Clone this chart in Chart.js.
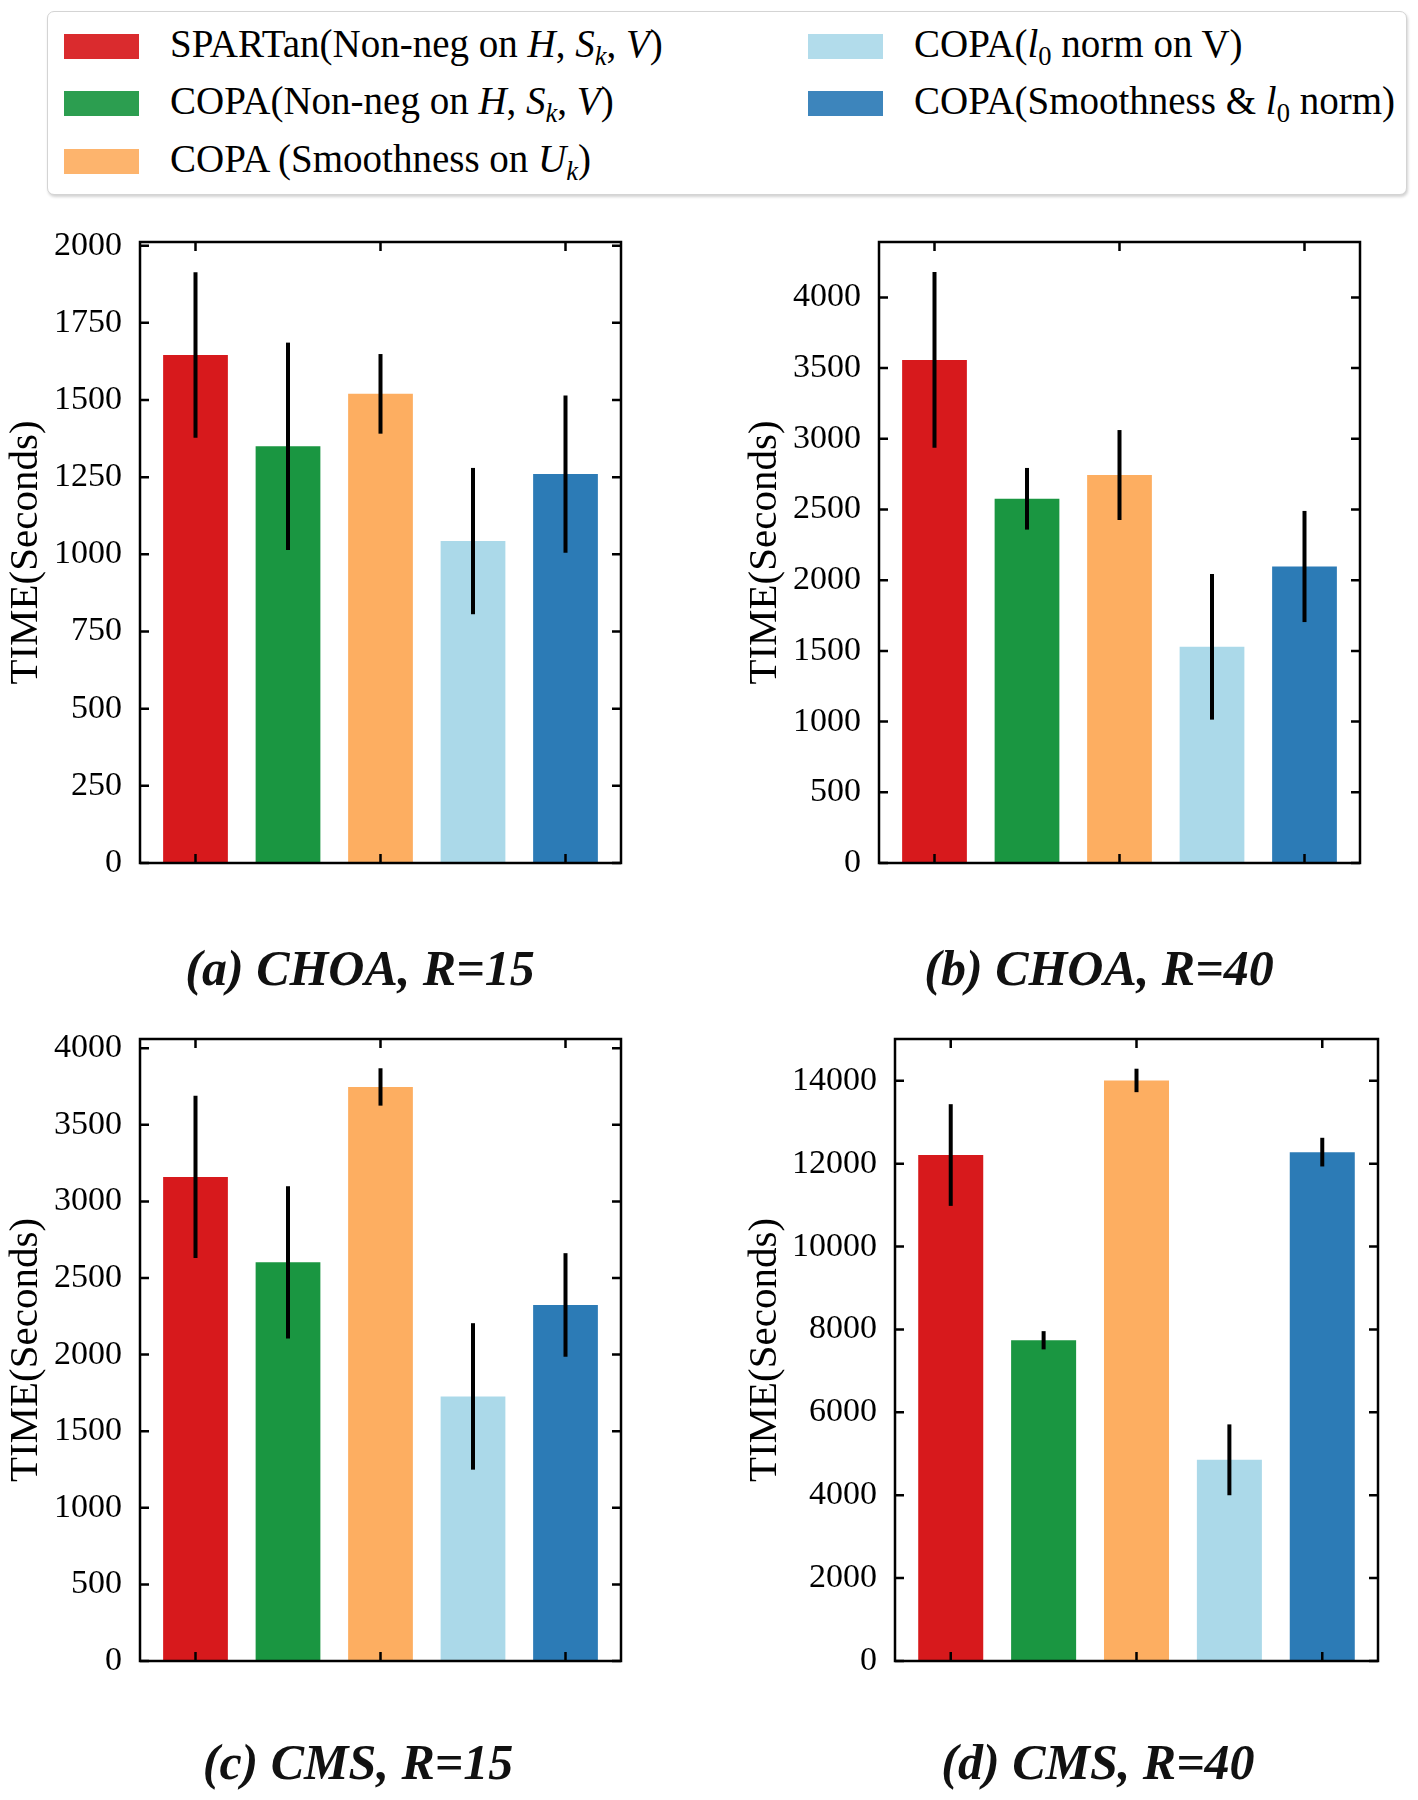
<!DOCTYPE html>
<html>
<head>
<meta charset="utf-8">
<script src="https://cdn.jsdelivr.net/npm/chart.js@4.4.0/dist/chart.umd.min.js"></script>
<style>
  body { margin: 0; background: #fff; }
  #page { position: relative; width: 1418px; height: 1800px; font-family: "Liberation Serif", serif; }
  canvas { position: absolute; }
  #legend {
    position: absolute; left: 47px; top: 11px; width: 1358px; height: 182px;
    border: 1.5px solid #d4d4d4; border-radius: 7px; box-shadow: 1px 2px 3px rgba(0,0,0,0.18);
    background: #fff;
  }
  .patch { position: absolute; width: 75px; height: 25px; }
  .ltext { position: absolute; font-size: 39px; line-height: 40px; color: #000; white-space: nowrap; }
  .ltext sub { font-size: 68%; vertical-align: -0.3em; line-height: 0; }
  .caption { position: absolute; font-size: 50px; line-height: 50px; font-weight: bold; font-style: italic;
    transform: translateX(-50%); white-space: nowrap; color: #111; }
</style>
</head>
<body>
<div id="page">
  <div id="legend"></div>
</div>
<script>
// methods (legend labels, with markup for italics / subscripts)
let methods = [
  "SPARTan(Non-neg on <i>H</i>, <i>S</i><sub><i>k</i></sub>, <i>V</i>)",
  "COPA(Non-neg on <i>H</i>, <i>S</i><sub><i>k</i></sub>, <i>V</i>)",
  "COPA (Smoothness on <i>U</i><sub><i>k</i></sub>)",
  "COPA(<i>l</i><sub>0</sub> norm on V)",
  "COPA(Smoothness &amp; <i>l</i><sub>0</sub> norm)"
];
let barColors = ["#d7191c", "#1a9641", "#fdae61", "#abd9e9", "#2c7bb6"];

// mean time and error (seconds) per method
let timeA = [1646, 1350, 1520, 1043, 1260];
let errA = [268, 336, 129, 237, 255];
let timeB = [3558, 2576, 2744, 1529, 2097];
let errB = [621, 218, 318, 515, 393];
let timeC = [3160, 2602, 3747, 1727, 2324];
let errC = [530, 497, 122, 478, 338];
let timeD = [12210, 7740, 14010, 4855, 12280];
let errD = [1227, 220, 283, 855, 346];

// y tick labels and axis tops
let ticksA = [0, 250, 500, 750, 1000, 1250, 1500, 1750, 2000];
let ticksB = [0, 500, 1000, 1500, 2000, 2500, 3000, 3500, 4000];
let ticksC = [0, 500, 1000, 1500, 2000, 2500, 3000, 3500, 4000];
let ticksD = [0, 2000, 4000, 6000, 8000, 10000, 12000, 14000];
let yMax = [2012, 4392, 4060, 15010];
let xTicks = [0, 2, 4];

let captions = ["(a) CHOA, R=15", "(b) CHOA, R=40", "(c) CMS, R=15", "(d) CMS, R=40"];

let page = document.getElementById("page");
let legend = document.getElementById("legend");

// legend: 2 columns, filled column by column
methods.forEach((m, i) => {
  let col = i < 3 ? 0 : 1;
  let row = i % 3;
  let cy = [34, 91, 149][row];
  let patch = document.createElement("div");
  patch.className = "patch";
  patch.style.left = [16, 760][col] + "px";
  patch.style.top = (cy - 12.5) + "px";
  patch.style.background = barColors[i];
  patch.style.opacity = 0.92;
  legend.appendChild(patch);
  let t = document.createElement("div");
  t.className = "ltext";
  t.style.left = [122, 866][col] + "px";
  t.style.top = (cy - 22) + "px";
  t.innerHTML = m;
  legend.appendChild(t);
});

// error bars drawn through the y scale
let errorBars = {
  id: "errorBars",
  afterDatasetsDraw(chart) {
    let ctx = chart.ctx;
    let y = chart.scales.y;
    let ds = chart.data.datasets[0];
    let meta = chart.getDatasetMeta(0);
    ctx.save();
    ctx.strokeStyle = "#000";
    ctx.lineWidth = 4;
    meta.data.forEach((bar, i) => {
      let v = ds.data[i].y;
      let e = ds.errors[i];
      ctx.beginPath();
      ctx.moveTo(bar.x, y.getPixelForValue(v - e));
      ctx.lineTo(bar.x, y.getPixelForValue(v + e));
      ctx.stroke();
    });
    ctx.restore();
  }
};

// box around plot with inward ticks on all four sides
let frame = {
  id: "frame",
  afterDraw(chart) {
    let ctx = chart.ctx;
    let a = chart.chartArea;
    let len = 9;
    ctx.save();
    ctx.strokeStyle = "#000";
    ctx.lineWidth = 2.5;
    ctx.strokeRect(a.left, a.top, a.right - a.left, a.bottom - a.top);
    ctx.beginPath();
    chart.scales.y.ticks.forEach(t => {
      let py = chart.scales.y.getPixelForValue(t.value);
      ctx.moveTo(a.left, py); ctx.lineTo(a.left + len, py);
      ctx.moveTo(a.right, py); ctx.lineTo(a.right - len, py);
    });
    chart.scales.x.ticks.forEach(t => {
      let px = chart.scales.x.getPixelForValue(t.value);
      ctx.moveTo(px, a.bottom); ctx.lineTo(px, a.bottom - len);
      ctx.moveTo(px, a.top); ctx.lineTo(px, a.top + len);
    });
    ctx.stroke();
    ctx.restore();
  }
};

Chart.defaults.font.family = "Liberation Serif";
Chart.defaults.color = "#000";

function makePanel(k, times, errs, yTicks, box) {
  let pad = 34;
  let canvas = document.createElement("canvas");
  canvas.width = box.w;
  canvas.height = box.bottom - box.top + 2 * pad;
  canvas.style.left = box.x + "px";
  canvas.style.top = (box.top - pad) + "px";
  page.appendChild(canvas);

  new Chart(canvas, {
    type: "bar",
    data: {
      datasets: [{
        data: times.map((v, i) => ({ x: i, y: v })),
        errors: errs,
        backgroundColor: barColors,
        borderWidth: 0,
        categoryPercentage: 1,
        barPercentage: 0.7
      }]
    },
    options: {
      responsive: false,
      animation: false,
      events: [],
      layout: { padding: { top: pad, bottom: pad, left: 0, right: 19 } },
      plugins: { legend: { display: false }, tooltip: { enabled: false } },
      scales: {
        x: {
          type: "linear",
          bounds: "data",
          offset: false,
          min: -0.6,
          max: 4.6,
          ticks: { display: false },
          afterBuildTicks(s) { s.ticks = xTicks.map(v => ({ value: v })); },
          grid: { display: false },
          border: { display: false },
          afterFit(s) { s.height = 0; }
        },
        y: {
          bounds: "data",
          min: 0,
          max: yMax[k],
          afterBuildTicks(s) { s.ticks = yTicks.map(v => ({ value: v })); },
          ticks: {
            padding: 10,
            font: { size: 34 },
            callback: v => String(v)
          },
          grid: { display: false },
          border: { display: false },
          title: {
            display: true,
            text: "TIME(Seconds)",
            font: { size: 41 },
            padding: { top: 2, bottom: 0 }
          },
          afterFit(s) { s.width = box.axisW; }
        }
      }
    },
    plugins: [errorBars, frame]
  });

  let cap = document.createElement("div");
  cap.className = "caption";
  cap.textContent = captions[k];
  cap.style.left = box.capX + "px";
  cap.style.top = box.capY + "px";
  page.appendChild(cap);
}

makePanel(0, timeA, errA, ticksA, { x: 0, top: 242, bottom: 863, w: 640, axisW: 140, capX: 360, capY: 943 });
makePanel(1, timeB, errB, ticksB, { x: 739, top: 242, bottom: 863, w: 640, axisW: 140, capX: 1099, capY: 943 });
makePanel(2, timeC, errC, ticksC, { x: 0, top: 1039, bottom: 1661, w: 640, axisW: 140, capX: 358, capY: 1737 });
makePanel(3, timeD, errD, ticksD, { x: 739, top: 1039, bottom: 1661, w: 658, axisW: 156, capX: 1098, capY: 1737 });
</script>
</body>
</html>
